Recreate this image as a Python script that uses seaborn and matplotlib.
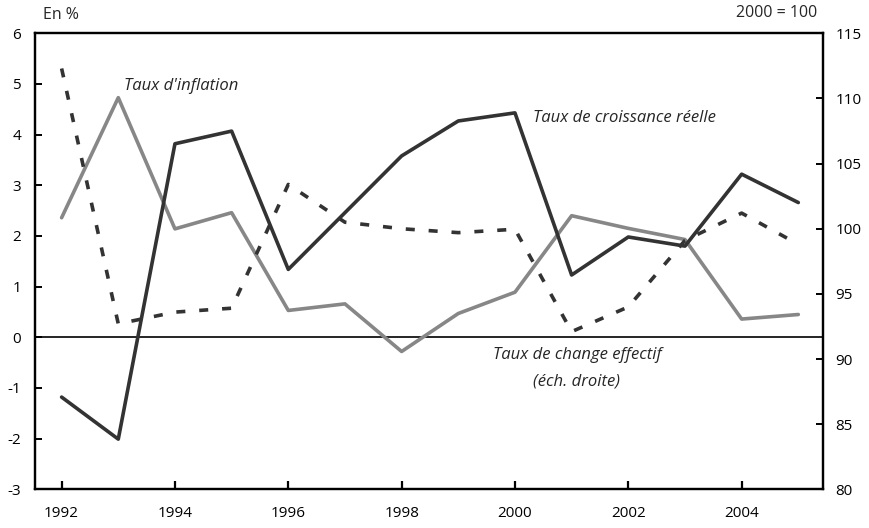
import matplotlib
matplotlib.use("Agg")
import matplotlib.pyplot as plt
import seaborn as sns
import pandas as pd

years = list(range(1992, 2006))
croissance = [-1.18, -2.01, 3.82, 4.07, 1.34, 2.46, 3.58, 4.27, 4.43, 1.23, 1.98, 1.80, 3.22, 2.66]
inflation = [2.36, 4.73, 2.14, 2.46, 0.53, 0.66, -0.28, 0.47, 0.89, 2.40, 2.15, 1.93, 0.36, 0.45]
change = [112.3, 92.7, 93.6, 93.9, 103.4, 100.5, 100.0, 99.7, 99.96, 92.1, 94.0, 99.1, 101.2, 98.8]

left_ticks = [-3, -2, -1, 0, 1, 2, 3, 4, 5, 6]
right_ticks = [80, 85, 90, 95, 100, 105, 110, 115]
x_ticks = [1992, 1994, 1996, 1998, 2000, 2002, 2004]

df = pd.DataFrame({"annee": years, "croissance": croissance,
                   "inflation": inflation, "change": change})

sns.set_theme(style="white")
plt.rcParams['font.family'] = ['Open Sans', 'DejaVu Sans']
plt.rcParams['lines.scale_dashes'] = False

fig = plt.figure(figsize=(8.7, 5.28), dpi=100)
ax = fig.add_axes([0.0402, 0.0733, 0.9054, 0.8636])
ax2 = ax.twinx()

dark = "#333333"
grey = "#878787"

ax.axhline(0, color="black", lw=1.2, zorder=1)
sns.lineplot(data=df, x="annee", y="inflation", ax=ax, color=grey, lw=2.6, zorder=3)
sns.lineplot(data=df, x="annee", y="croissance", ax=ax, color=dark, lw=2.6, zorder=4)
sns.lineplot(data=df, x="annee", y="change", ax=ax2, color=dark, lw=2.6,
             linestyle=(0, (6.5, 10)), zorder=3)

ax.set_xlim(1991.53, 2005.43)
ax.set_ylim(-3, 6)
ax2.set_ylim(80, 115)
ax.set_xticks(x_ticks)
ax.set_xticklabels([str(t) for t in x_ticks])
ax.set_yticks(left_ticks)
ax.set_yticklabels([str(t) for t in left_ticks])
ax2.set_yticks(right_ticks)
ax2.set_yticklabels([str(t) for t in right_ticks])
ax.set_xlabel("")
ax.set_ylabel("")
ax2.set_xlabel("")
ax2.set_ylabel("")

for a in (ax, ax2):
    for s in a.spines.values():
        s.set_visible(True)
        s.set_color("black")
        s.set_linewidth(1.6)

tfs = 11
ax.tick_params(axis="x", direction="in", length=6, width=1.6, pad=12,
               labelsize=tfs, colors="black", bottom=True, top=False)
ax.tick_params(axis="y", direction="in", length=5, width=1.4, pad=10,
               labelsize=tfs, colors="black", left=True, right=False)
ax2.tick_params(axis="y", direction="in", length=5, width=1.4, pad=9,
                labelsize=tfs, colors="black", right=True, left=False)
ax.grid(False)
ax2.grid(False)

fs = 12
fig.text(43 / 870, 1 - 15 / 528, "En %", fontsize=fs - 0.5, ha="left", va="center")
fig.text(817 / 870, 1 - 13 / 528, "2000 = 100", fontsize=fs - 0.5, ha="right", va="center")
fig.text(124 / 870, 1 - 86 / 528, "Taux d'inflation", fontsize=fs, style="italic",
         ha="left", va="center")
fig.text(533 / 870, 1 - 118 / 528, "Taux de croissance réelle", fontsize=fs,
         style="italic", ha="left", va="center")
fig.text(577 / 870, 1 - 355 / 528, "Taux de change effectif", fontsize=fs,
         style="italic", ha="center", va="center")
fig.text(577 / 870, 1 - 381 / 528, "(éch. droite)", fontsize=fs,
         style="italic", ha="center", va="center")

fig.savefig("out.png", dpi=100)
